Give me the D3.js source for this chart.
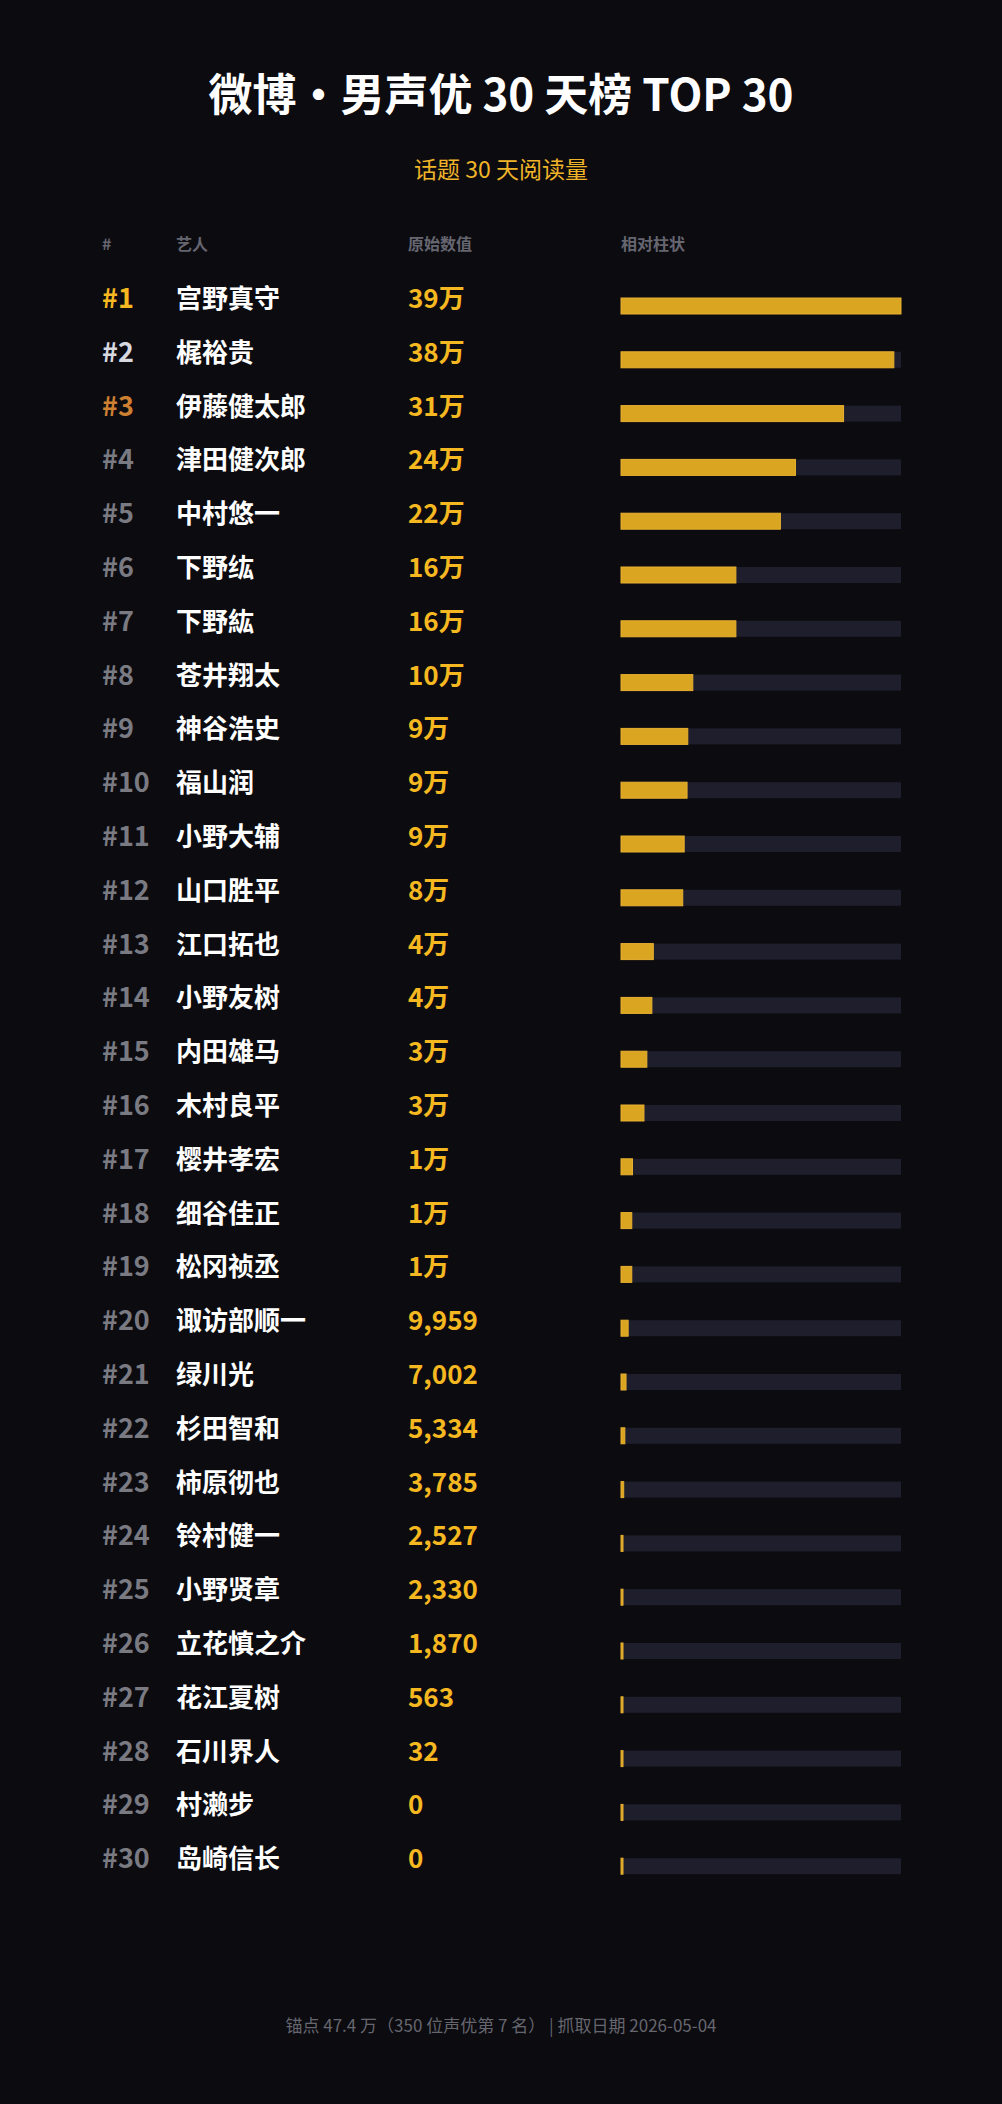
<!DOCTYPE html>
<html><head><meta charset="utf-8">
<script src="https://cdn.jsdelivr.net/npm/d3@7"></script>
<style>
html,body{margin:0;padding:0;background:#0b0b10;}
svg text{font-family:"Noto Sans CJK SC","Noto Sans",sans-serif;}
</style></head>
<body><div id="chart"></div>
<script>
var names = ["宫野真守","梶裕贵","伊藤健太郎","津田健次郎","中村悠一","下野纮","下野紘","苍井翔太","神谷浩史","福山润",
	"小野大辅","山口胜平","江口拓也","小野友树","内田雄马","木村良平","樱井孝宏","细谷佳正","松冈祯丞","诹访部顺一",
	"绿川光","杉田智和","柿原彻也","铃村健一","小野贤章","立花慎之介","花江夏树","石川界人","村濑步","岛崎信长"];
var valueLabels = ["39万","38万","31万","24万","22万","16万","16万","10万","9万","9万",
	"9万","8万","4万","4万","3万","3万","1万","1万","1万","9,959",
	"7,002","5,334","3,785","2,527","2,330","1,870","563","32","0","0"];
// estimated raw values (labels are rounded)
var values = [390000,380000,310000,243000,222000,160000,160000,100000,93000,92000,
	88000,86000,45000,43000,36000,32000,16000,15000,15000,9959,
	7002,5334,3785,2527,2330,1870,563,32,0,0];
var headers = ["#","艺人","原始数值","相对柱状"];

(function () {
	"use strict";
	var W = 1002, H = 2104,
		svg = d3.select("#chart").append("svg").attr("width", W).attr("height", H);
	svg.append("rect").attr("width", W).attr("height", H).attr("fill", "#0b0b10");

	svg.append("text").attr("x", W / 2).attr("y", 111).attr("text-anchor", "middle")
		.attr("fill", "#ffffff").attr("font-size", 44).attr("font-weight", "bold")
		.text("微博・男声优 30 天榜 TOP 30");
	svg.append("text").attr("x", W / 2).attr("y", 178).attr("text-anchor", "middle")
		.attr("fill", "#f0b429").attr("font-size", 23).text("话题 30 天阅读量");

	var colX = [102, 176, 408, 621];
	svg.selectAll("text.hdr").data(headers).enter().append("text")
		.attr("class", "hdr").attr("x", function (d, i) { return colX[i]; }).attr("y", 250)
		.attr("fill", "#666670").attr("font-size", 16).attr("font-weight", "bold").text(function (d) { return d; });

	var y = d3.scaleBand().domain(d3.range(30)).range([271, 271 + 53.8 * 30]),
		x = d3.scaleLinear().domain([0, d3.max(values)]).range([0, 280]),
		barH = 16;

	var rows = svg.selectAll("g.row").data(names).enter().append("g")
		.attr("class", "row").attr("transform", function (d, i) { return "translate(0," + y(i) + ")"; });
	var rankColor = function (i) { return i === 0 ? "#f5b820" : i === 1 ? "#d8d8e0" : i === 2 ? "#cd7f32" : "#7a7a82"; };

	rows.append("text").attr("x", colX[0]).attr("y", 37).attr("fill", function (d, i) { return rankColor(i); })
		.attr("font-size", 27).attr("font-weight", "bold").text(function (d, i) { return "#" + (i + 1); });
	rows.append("text").attr("x", colX[1]).attr("y", 37).attr("fill", "#ffffff")
		.attr("font-size", 26).attr("font-weight", "bold").text(function (d) { return d; });
	rows.append("text").attr("x", colX[2]).attr("y", 37).attr("fill", "#f5b820")
		.attr("font-size", 26).attr("font-weight", "bold").text(function (d, i) { return valueLabels[i]; });
	rows.append("rect").attr("x", colX[3]).attr("y", 27).attr("width", 280).attr("height", barH).attr("fill", "#1e1e2c");
	rows.append("rect").attr("x", colX[3]).attr("y", 27)
		.attr("width", function (d, i) { return Math.max(2, x(values[i])); }).attr("height", barH)
		.attr("fill", "#daa520").attr("stroke", "#e8b030").attr("stroke-width", 1);

	svg.append("text").attr("x", W / 2).attr("y", 2032).attr("text-anchor", "middle")
		.attr("fill", "#66666e").attr("font-size", 17)
		.text("锚点 47.4 万（350 位声优第 7 名）  |  抓取日期 2026-05-04");
})();
</script></body></html>
